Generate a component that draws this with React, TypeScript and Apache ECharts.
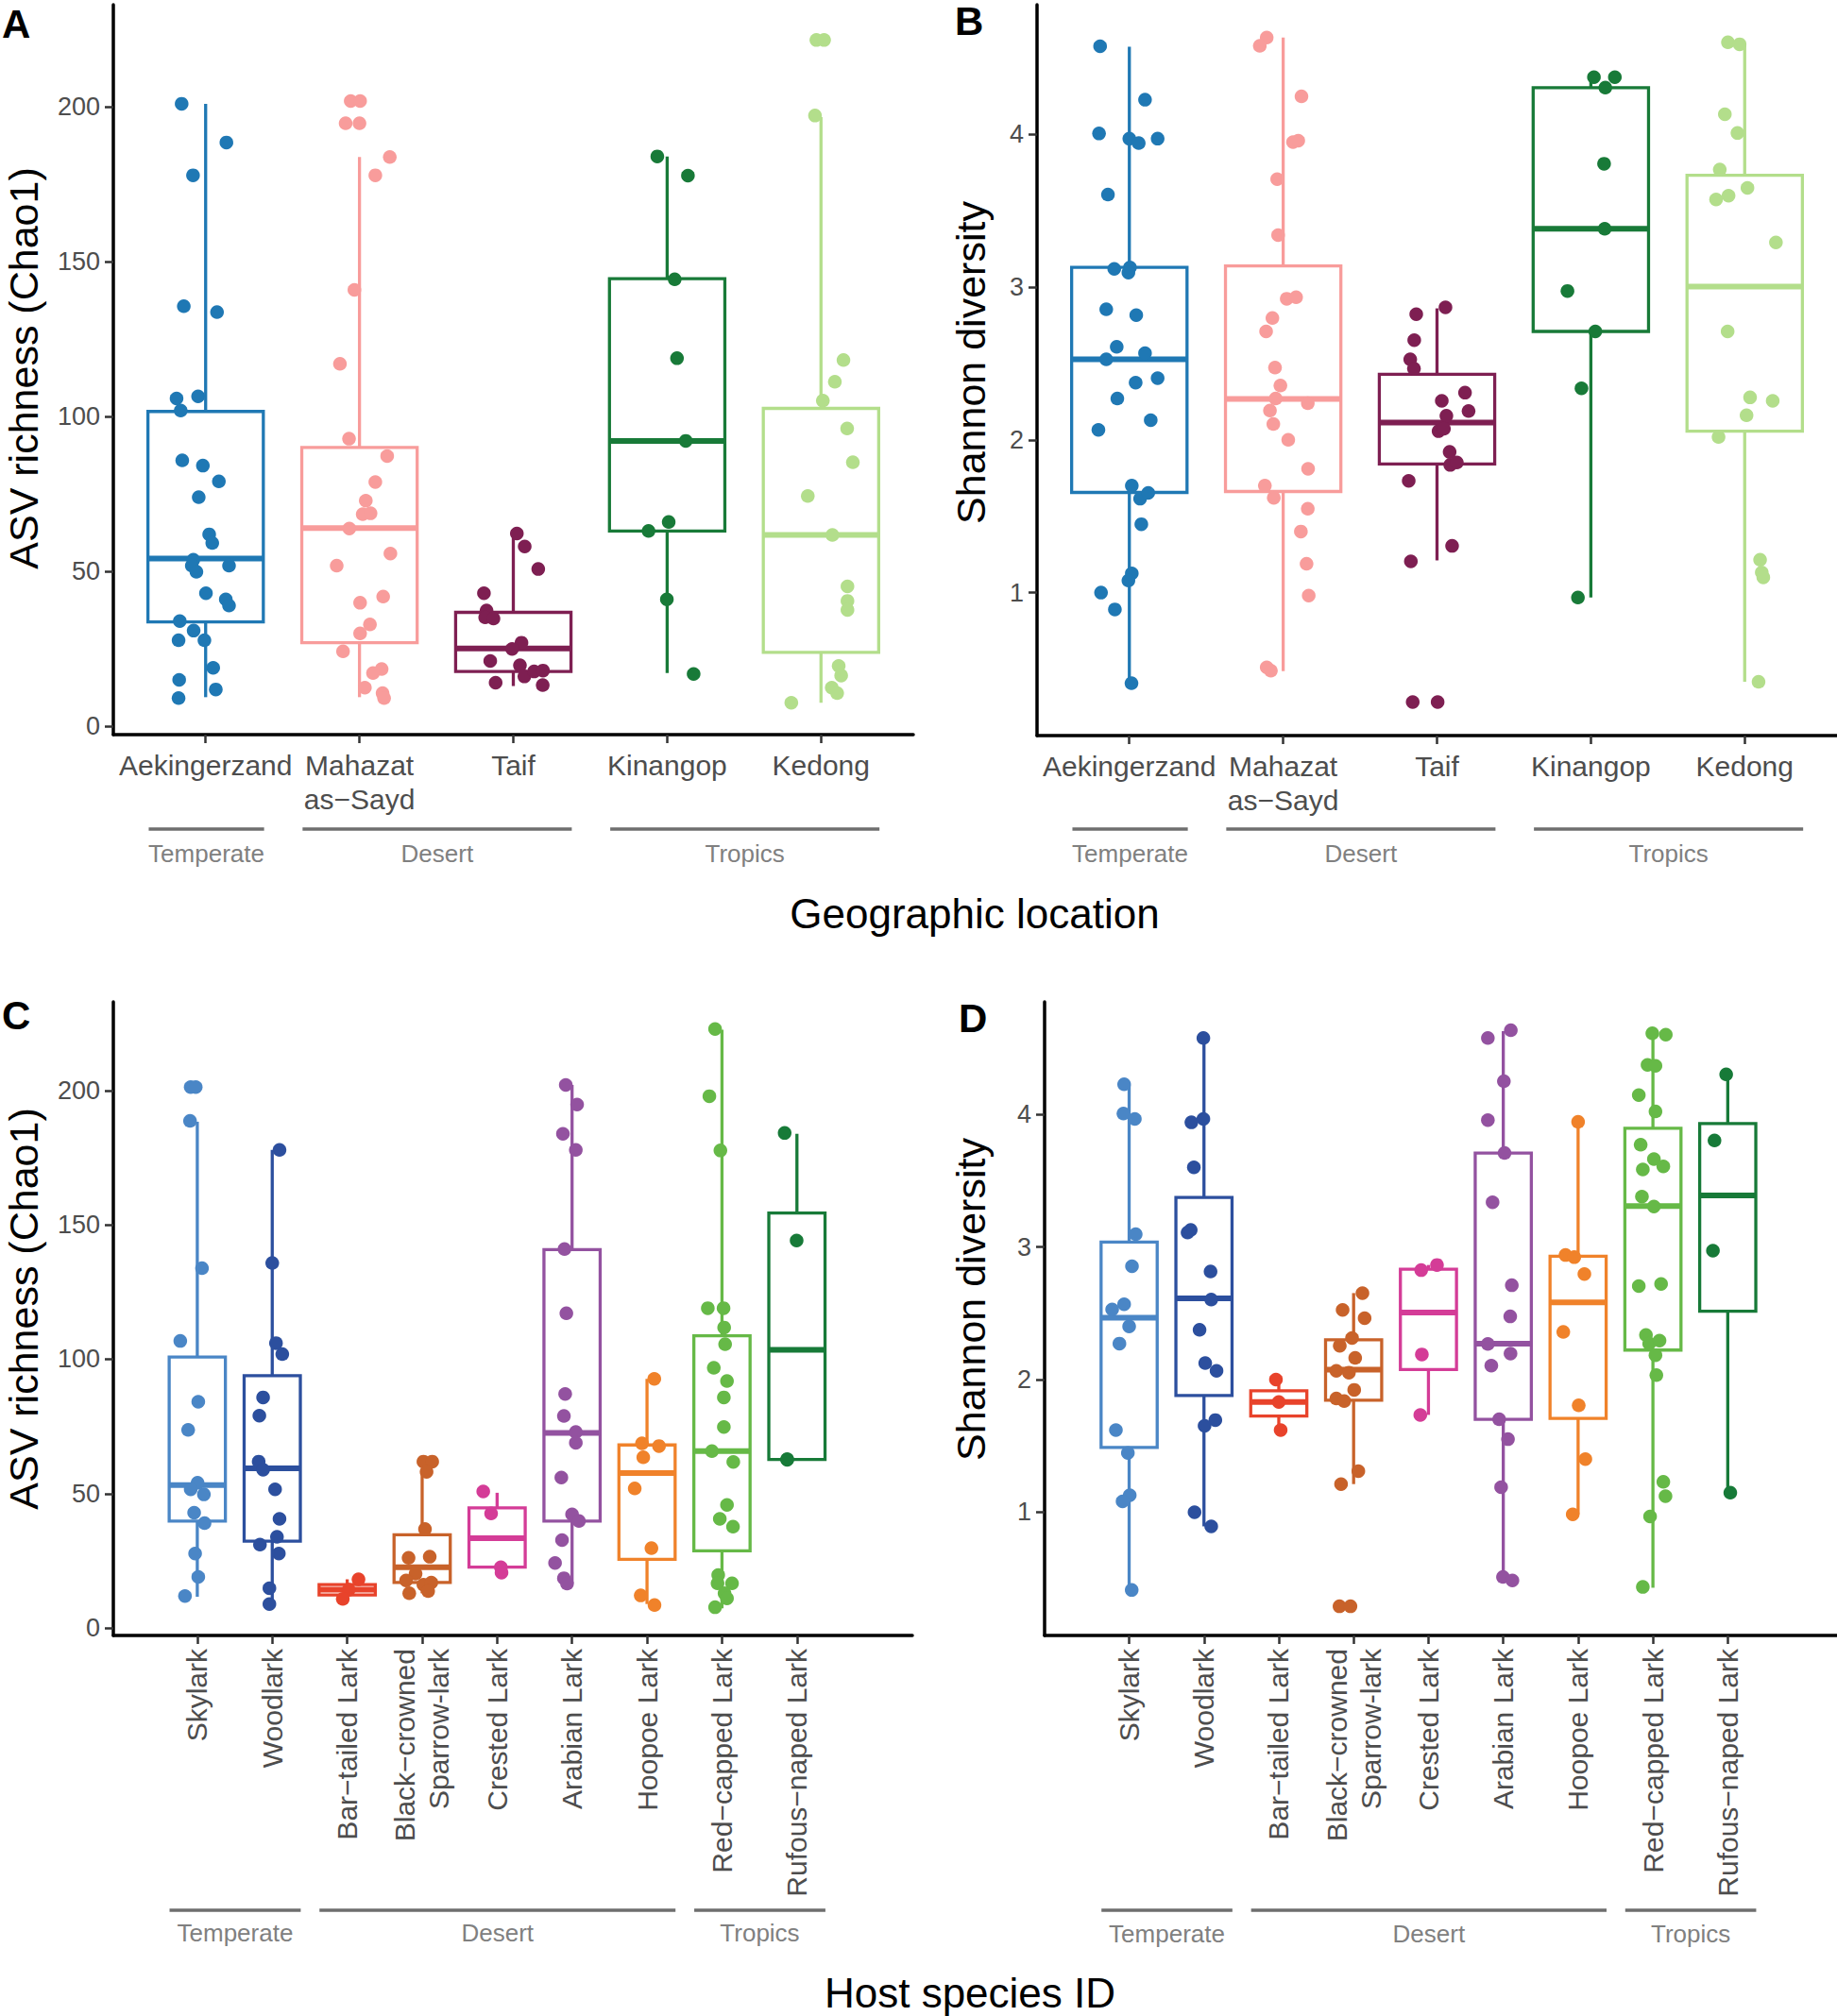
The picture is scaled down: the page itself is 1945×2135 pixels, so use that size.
import React, { useEffect, useRef } from "react";
import * as echarts from "echarts";

const FONT = "'Liberation Sans', Arial, Helvetica, sans-serif";

// ---------- categories ----------
const locations = ["Aekingerzand", "Mahazat\nas−Sayd", "Taif", "Kinangop", "Kedong"];
const locationColors = ["#1F78B4", "#F89C9B", "#7E1F52", "#187A38", "#B3DE8B"];
const species = [
  "Skylark",
  "Woodlark",
  "Bar−tailed Lark",
  "Black−crowned\nSparrow-lark",
  "Crested Lark",
  "Arabian Lark",
  "Hoopoe Lark",
  "Red−capped Lark",
  "Rufous−naped Lark",
];
const speciesColors = ["#4A86C6", "#2C4F9E", "#E8432B", "#C8622A", "#D43C97", "#9352A0", "#F0822A", "#66B947", "#177A38"];
const locationGroups: [string, number, number][] = [["Temperate", 1, 1], ["Desert", 2, 3], ["Tropics", 4, 5]];
const speciesGroups: [string, number, number][] = [["Temperate", 1, 2], ["Desert", 3, 7], ["Tropics", 8, 9]];
const chaoTicks = [0, 50, 100, 150, 200];
const shannonTicks = [1, 2, 3, 4];

// ---------- A: Chao1 by location ----------
// [lower whisker, q1, median, q3, upper whisker]
const chaoLocBoxes = [
  [9.3, 33.6, 54.1, 101.6, 201],
  [9.3, 26.9, 63.9, 90.0, 183.8],
  [12.9, 17.6, 25.0, 36.7, 62.2],
  [17.1, 63.0, 92.1, 144.5, 184.0],
  [7.5, 23.8, 61.7, 102.6, 196.7],
];
const chaoLocValues = [
  [201, 188.5, 177.9, 135.6, 133.7, 105.8, 106.5, 101.9, 85.8, 84.1, 79.0, 73.9, 61.9, 59.1, 53.7, 51.8, 49.8, 51.8, 42.9, 40.9, 38.9, 33.9, 30.8, 27.7, 27.7, 18.8, 14.9, 11.8, 9.0],
  [201.9, 201.9, 194.7, 194.7, 183.8, 177.9, 140.9, 117.0, 92.8, 87.2, 78.8, 72.8, 68.4, 68.7, 63.8, 55.7, 51.8, 39.8, 41.8, 32.8, 29.9, 24.1, 18.4, 17.1, 12.4, 10.6, 9.0],
  [62.2, 58.0, 50.7, 42.9, 37.3, 35.1, 34.7, 26.9, 24.9, 21.0, 19.6, 16.0, 17.6, 17.9, 14.0, 13.2],
  [184.0, 177.8, 144.3, 118.8, 92.1, 65.9, 63.0, 40.9, 16.8],
  [221.6, 221.6, 197.2, 118.2, 111.2, 105.1, 96.1, 85.2, 74.3, 61.7, 45.1, 40.4, 37.5, 19.4, 16.3, 12.4, 10.6, 7.5],
];
const chaoLocJitter = [
  [-0.156, 0.135, -0.082, -0.142, 0.074, -0.189, -0.049, -0.162, -0.152, -0.018, 0.086, -0.045, 0.023, 0.043, -0.08, -0.09, -0.06, 0.152, 0.002, 0.131, 0.152, -0.168, -0.078, -0.176, -0.008, 0.049, -0.172, 0.066, -0.176],
  [-0.057, 0.004, -0.09, 0, 0.197, 0.103, -0.033, -0.127, -0.068, 0.18, 0.103, 0.041, 0.021, 0.072, -0.066, 0.201, -0.148, 0.004, 0.154, 0.068, 0.004, -0.107, 0.144, 0.088, 0.035, 0.15, 0.16],
  [0.023, 0.074, 0.162, -0.191, -0.174, -0.183, -0.129, 0.053, -0.008, -0.15, 0.043, 0.072, 0.135, 0.193, -0.115, 0.191],
  [-0.064, 0.135, 0.049, 0.064, 0.121, 0.01, -0.121, -0.002, 0.172],
  [-0.03, 0.02, -0.039, 0.146, 0.09, 0.012, 0.17, 0.207, -0.086, 0.074, 0.172, 0.172, 0.172, 0.115, 0.131, 0.07, 0.105, -0.193],
];

// ---------- B: Shannon by location ----------
const shannonLocBoxes = [
  [0.407, 1.656, 2.527, 3.129, 4.574],
  [0.486, 1.662, 2.268, 3.139, 4.634],
  [1.211, 1.842, 2.114, 2.429, 2.861],
  [0.968, 2.71, 3.382, 4.306, 4.369],
  [0.416, 2.057, 3.003, 3.732, 4.596],
];
const shannonLocValues = [
  [4.577, 4.227, 4.006, 3.972, 3.943, 3.972, 3.606, 3.12, 3.129, 3.095, 2.855, 2.817, 2.609, 2.568, 2.527, 2.404, 2.375, 2.271, 2.129, 2.066, 1.7, 1.615, 1.653, 1.448, 1.126, 1.079, 1.0, 0.89, 0.407],
  [4.634, 4.58, 4.249, 3.95, 3.959, 3.707, 3.341, 2.924, 2.934, 2.798, 2.71, 2.473, 2.356, 2.271, 2.24, 2.192, 2.104, 2.0, 1.811, 1.7, 1.621, 1.549, 1.4, 1.189, 0.981, 0.511, 0.489],
  [2.868, 2.823, 2.653, 2.527, 2.467, 2.309, 2.256, 2.189, 2.158, 2.057, 2.073, 1.921, 1.836, 1.852, 1.732, 1.306, 1.205, 0.284, 0.284],
  [4.375, 4.375, 4.306, 3.808, 3.382, 2.975, 2.71, 2.338, 0.968],
  [4.603, 4.59, 4.132, 4.009, 3.77, 3.65, 3.599, 3.574, 3.293, 2.71, 2.278, 2.256, 2.161, 2.019, 1.215, 1.132, 1.1, 0.416],
];
const shannonLocJitter = [
  [-0.19, 0.102, -0.197, 0, 0.061, 0.184, -0.139, -0.098, 0.004, -0.006, -0.15, 0.045, -0.082, 0.102, -0.15, 0.184, 0.041, -0.078, 0.139, -0.201, 0.016, 0.07, 0.123, 0.078, 0.016, -0.006, -0.184, -0.094, 0.014],
  [-0.107, -0.152, 0.119, 0.064, 0.098, -0.039, -0.033, 0.023, 0.084, -0.07, -0.111, -0.053, -0.018, -0.049, 0.16, -0.086, -0.064, 0.033, 0.162, -0.119, -0.061, 0.16, 0.115, 0.152, 0.166, -0.107, -0.08],
  [0.055, -0.135, -0.148, -0.174, -0.15, 0.182, 0.031, 0.205, 0.061, 0.01, 0.045, 0.082, 0.086, 0.129, -0.184, 0.098, -0.17, -0.158, 0.004],
  [0.02, 0.156, 0.094, 0.086, 0.09, -0.152, 0.029, -0.061, -0.084],
  [-0.109, -0.033, -0.129, -0.047, -0.162, 0.018, -0.105, -0.186, 0.203, -0.111, 0.035, 0.182, 0.012, -0.17, 0.1, 0.111, 0.121, 0.09],
];

// ---------- C: Chao1 by host species ----------
const chaoSpBoxes = [
  [11.6, 39.8, 53.2, 100.8, 188.4],
  [8.1, 32.3, 59.4, 93.9, 177.9],
  [10.8, 12.3, 14.2, 16.1, 18.1],
  [12.9, 16.9, 22.6, 34.7, 58.1],
  [21.8, 22.6, 33.4, 44.7, 50.3],
  [16.5, 39.8, 72.6, 140.8, 202.1],
  [8.9, 25.5, 57.6, 68.1, 92.7],
  [7.3, 28.7, 65.8, 108.7, 222.6],
  [62.6, 62.7, 103.5, 154.4, 183.9],
];
const chaoSpValues = [
  [201.3, 201.3, 188.7, 133.9, 106.8, 84.2, 73.7, 54.0, 51.6, 49.7, 42.9, 39.0, 27.7, 19.0, 11.9],
  [177.9, 135.8, 106.0, 101.9, 85.8, 79.0, 61.9, 58.9, 51.6, 40.6, 33.9, 31.0, 27.7, 14.8, 8.9],
  [18.1, 14.2, 10.8],
  [61.9, 61.9, 58.1, 36.8, 26.1, 26.5, 20.2, 17.7, 16.1, 16.9, 12.9, 13.7],
  [50.8, 42.6, 22.6, 20.6],
  [202.1, 194.8, 183.9, 177.9, 141.0, 117.1, 87.1, 78.9, 72.9, 68.9, 56.0, 42.3, 39.8, 32.7, 24.2, 18.5, 16.5],
  [92.7, 68.7, 67.7, 63.5, 51.9, 29.7, 12.1, 8.5],
  [222.9, 197.9, 177.7, 119.0, 119.0, 111.8, 105.6, 96.8, 91.9, 85.8, 74.8, 65.8, 61.8, 45.8, 40.6, 37.7, 19.7, 16.6, 16.6, 12.9, 11.0, 7.7],
  [184.2, 144.2, 62.8, 62.6],
];
const chaoSpJitter = [
  [-0.088, -0.021, -0.097, 0.063, -0.227, 0.013, -0.122, 0.004, -0.088, 0.088, -0.042, 0.097, -0.029, 0.013, -0.164],
  [0.097, 0, 0.05, 0.134, -0.122, -0.172, -0.181, -0.122, 0.038, 0.097, 0.063, -0.164, 0.088, -0.038, -0.038],
  [0.151, 0.02, -0.059],
  [0.017, 0.134, 0.059, 0.038, -0.181, 0.101, -0.088, -0.214, 0.017, 0.122, -0.172, 0.08],
  [-0.185, -0.08, 0.05, 0.059],
  [-0.084, 0.067, -0.122, 0.05, -0.101, -0.076, -0.092, -0.109, 0.05, 0.05, -0.143, 0, 0.092, -0.134, -0.227, -0.109, -0.067],
  [0.097, -0.067, 0.16, -0.05, -0.164, 0.059, -0.084, 0.1],
  [-0.092, -0.168, -0.021, -0.189, 0.021, 0.029, 0.042, -0.109, 0.067, 0.025, 0.025, -0.134, 0.151, 0.067, -0.029, 0.147, -0.05, -0.059, 0.134, 0.034, 0.067, -0.092],
  [-0.164, -0.004, -0.13, -0.13],
];

// ---------- D: Shannon by host species ----------
const shannonSpBoxes = [
  [0.413, 1.489, 2.468, 3.038, 4.222],
  [0.893, 1.881, 2.614, 3.374, 4.577],
  [1.62, 1.726, 1.832, 1.916, 2.0],
  [1.212, 1.845, 2.076, 2.301, 2.653],
  [1.734, 2.076, 2.507, 2.833, 2.865],
  [0.495, 1.701, 2.272, 3.71, 4.629],
  [0.984, 1.708, 2.582, 2.931, 3.945],
  [0.43, 2.223, 3.309, 3.896, 4.613],
  [1.147, 2.516, 3.39, 3.932, 4.303],
];
const shannonSpValues = [
  [4.228, 4.007, 3.967, 3.097, 2.856, 2.569, 2.53, 2.402, 2.272, 1.62, 1.447, 1.128, 1.082, 0.413],
  [4.577, 3.941, 3.967, 3.602, 3.11, 3.129, 2.816, 2.604, 2.376, 2.125, 2.067, 1.695, 1.652, 1.0, 0.893],
  [2.001, 1.832, 1.62],
  [2.653, 2.526, 2.464, 2.314, 2.256, 2.164, 2.067, 2.053, 1.923, 1.858, 1.838, 1.31, 1.212, 0.29, 0.29],
  [2.865, 2.826, 2.19, 1.734],
  [4.636, 4.577, 4.251, 3.958, 3.71, 3.338, 2.712, 2.477, 2.269, 2.197, 2.106, 1.701, 1.551, 1.189, 0.511, 0.485],
  [3.945, 2.94, 2.924, 2.797, 2.36, 1.806, 1.401, 0.984],
  [4.613, 4.603, 4.375, 4.368, 4.147, 4.023, 3.772, 3.664, 3.609, 3.586, 3.381, 3.306, 2.706, 2.722, 2.337, 2.272, 2.295, 2.184, 2.034, 1.229, 1.121, 0.968, 0.436],
  [4.303, 3.804, 2.973, 1.147],
];
const shannonSpJitter = [
  [-0.067, -0.076, 0.076, 0.088, 0.038, -0.067, -0.227, 0, -0.13, -0.177, -0.017, 0.008, -0.088, 0.034],
  [-0.008, -0.168, -0.008, -0.135, -0.219, -0.177, 0.088, 0.097, -0.059, 0.017, 0.168, 0.152, 0.008, -0.126, 0.097],
  [-0.038, 0, 0.025],
  [0.118, -0.147, 0.147, -0.021, -0.185, 0.021, -0.231, -0.063, 0.008, -0.231, -0.126, 0.063, -0.168, -0.189, -0.042],
  [0.114, -0.097, -0.088, -0.109],
  [0.101, -0.206, 0.008, -0.206, 0.017, -0.143, 0.114, 0.093, -0.206, 0.097, -0.16, -0.055, 0.063, -0.029, -0.004, 0.122],
  [0, -0.168, -0.051, 0.084, -0.198, 0.008, 0.097, -0.072],
  [-0.008, 0.172, -0.072, 0.034, -0.189, 0.034, -0.164, 0.013, 0.139, -0.135, -0.147, 0.013, -0.189, 0.109, -0.093, -0.05, 0.088, 0.034, 0.046, 0.139, 0.168, -0.038, -0.135],
  [-0.021, -0.177, -0.198, 0.034],
];

type Panel = {
  grid: { left: number; top: number; width: number; height: number };
  cats: string[];
  colors: string[];
  boxes: number[][];
  values: number[][];
  jitter: number[][];
  groups: [string, number, number][];
  xMin: number;
  xMax: number;
  yMin: number;
  yMax: number;
  ticks: number[];
  rotate: number;
  lineOff: number;
  labelOff: number;
};

const panels: Panel[] = [
  {
    grid: { left: 120, top: 5, width: 847, height: 773 },
    cats: locations, colors: locationColors, boxes: chaoLocBoxes, values: chaoLocValues, jitter: chaoLocJitter,
    groups: locationGroups, xMin: 0.4, xMax: 5.6, yMin: -2.8, yMax: 233, ticks: chaoTicks, rotate: 0, lineOff: 100, labelOff: 126,
  },
  {
    grid: { left: 1098, top: 5, width: 847, height: 774 },
    cats: locations, colors: locationColors, boxes: shannonLocBoxes, values: shannonLocValues, jitter: shannonLocJitter,
    groups: locationGroups, xMin: 0.4, xMax: 5.6, yMin: 0.064, yMax: 4.849, ticks: shannonTicks, rotate: 0, lineOff: 99, labelOff: 125,
  },
  {
    grid: { left: 120, top: 1061, width: 846, height: 671 },
    cats: species, colors: speciesColors, boxes: chaoSpBoxes, values: chaoSpValues, jitter: chaoSpJitter,
    groups: speciesGroups, xMin: -0.12, xMax: 10.54, yMin: -2.8, yMax: 233, ticks: chaoTicks, rotate: 90, lineOff: 291, labelOff: 315,
  },
  {
    grid: { left: 1106, top: 1061, width: 839, height: 671 },
    cats: species, colors: speciesColors, boxes: shannonSpBoxes, values: shannonSpValues, jitter: shannonSpJitter,
    groups: speciesGroups, xMin: -0.13, xMax: 10.46, yMin: 0.07, yMax: 4.85, ticks: shannonTicks, rotate: 90, lineOff: 291, labelOff: 316,
  },
];

const BOX_HALF = 0.375;

function buildOption() {
  const grids: any[] = [];
  const xAxes: any[] = [];
  const yAxes: any[] = [];
  const series: any[] = [];

  panels.forEach((p, pi) => {
    grids.push({ left: p.grid.left, top: p.grid.top, width: p.grid.width, height: p.grid.height, containLabel: false });
    const catIdx = p.cats.map((_, i) => i + 1);
    xAxes.push({
      gridIndex: pi,
      type: "value",
      min: p.xMin,
      max: p.xMax,
      axisLine: { show: true, onZero: false, lineStyle: { color: "#000", width: 3.5 } },
      axisTick: { show: true, customValues: catIdx, length: 9, lineStyle: { color: "#333", width: 2.5 } },
      axisLabel: {
        show: true,
        customValues: catIdx,
        formatter: (v: number) => p.cats[Math.round(v) - 1] ?? "",
        fontSize: 30,
        lineHeight: 36,
        color: "#4d4d4d",
        fontFamily: FONT,
        margin: 14,
        rotate: p.rotate,
      },
      splitLine: { show: false },
    });
    yAxes.push({
      gridIndex: pi,
      type: "value",
      min: p.yMin,
      max: p.yMax,
      axisLine: { show: true, onZero: false, lineStyle: { color: "#000", width: 3.5 } },
      axisTick: { show: true, customValues: p.ticks, length: 9, lineStyle: { color: "#333", width: 2.5 } },
      axisLabel: { show: true, customValues: p.ticks, fontSize: 27, color: "#4d4d4d", fontFamily: FONT, margin: 14 },
      splitLine: { show: false },
    });

    // boxes
    series.push({
      type: "custom",
      xAxisIndex: pi,
      yAxisIndex: pi,
      z: 2,
      encode: { x: 0, y: 3 },
      data: p.boxes.map((b, i) => [i + 1, b[0], b[1], b[2], b[3], b[4], i]),
      renderItem: (params: any, api: any) => {
        const x = api.value(0);
        const lo = api.value(1), q1 = api.value(2), med = api.value(3), q3 = api.value(4), hi = api.value(5);
        const color = p.colors[api.value(6)];
        const pHi = api.coord([x, hi]);
        const pQ3 = api.coord([x, q3]);
        const pQ1 = api.coord([x, q1]);
        const pLo = api.coord([x, lo]);
        const tl = api.coord([x - BOX_HALF, q3]);
        const br = api.coord([x + BOX_HALF, q1]);
        const mL = api.coord([x - BOX_HALF, med]);
        const mR = api.coord([x + BOX_HALF, med]);
        return {
          type: "group",
          children: [
            { type: "line", shape: { x1: pHi[0], y1: pHi[1], x2: pQ3[0], y2: pQ3[1] }, style: { stroke: color, lineWidth: 3.3 } },
            { type: "line", shape: { x1: pQ1[0], y1: pQ1[1], x2: pLo[0], y2: pLo[1] }, style: { stroke: color, lineWidth: 3.3 } },
            {
              type: "rect",
              shape: { x: tl[0], y: tl[1], width: br[0] - tl[0], height: br[1] - tl[1] },
              style: { stroke: color, fill: "#ffffff", lineWidth: 3.3 },
            },
            { type: "line", shape: { x1: mL[0], y1: mL[1], x2: mR[0], y2: mR[1] }, style: { stroke: color, lineWidth: 6 } },
          ],
        };
      },
    });

    // jittered points
    p.values.forEach((vals, gi) => {
      series.push({
        type: "scatter",
        xAxisIndex: pi,
        yAxisIndex: pi,
        z: 3,
        symbol: "circle",
        symbolSize: 14.5,
        itemStyle: { color: p.colors[gi], opacity: 1 },
        data: vals.map((v, k) => [gi + 1 + p.jitter[gi][k], v]),
      });
    });

    // climate group brackets under the axis
    series.push({
      type: "custom",
      xAxisIndex: pi,
      yAxisIndex: pi,
      z: 2,
      clip: false,
      encode: { x: [0, 1] },
      data: p.groups.map((g) => [g[1] - 0.37, g[2] + 0.38]),
      renderItem: (params: any, api: any) => {
        const a = api.coord([api.value(0), p.yMin]);
        const b = api.coord([api.value(1), p.yMin]);
        const name = p.groups[params.dataIndex][0];
        return {
          type: "group",
          children: [
            {
              type: "line",
              shape: { x1: a[0], y1: a[1] + p.lineOff, x2: b[0], y2: a[1] + p.lineOff },
              style: { stroke: "#6e6e6e", lineWidth: 3.5 },
            },
            {
              type: "text",
              style: {
                text: name,
                x: (a[0] + b[0]) / 2,
                y: a[1] + p.labelOff,
                fill: "#808080",
                fontSize: 26,
                fontFamily: FONT,
                align: "center",
                verticalAlign: "middle",
              },
            },
          ],
        };
      },
    });
  });

  const txt = (text: string, x: number, y: number, size: number, opts: any = {}) => ({
    type: "text",
    x,
    y,
    rotation: opts.rotation || 0,
    style: {
      text,
      x: 0,
      y: 0,
      fill: opts.fill || "#000",
      fontSize: size,
      fontWeight: opts.bold ? "bold" : "normal",
      fontFamily: FONT,
      align: opts.align || "center",
      verticalAlign: "middle",
    },
  });

  const graphic = [
    txt("A", 2, 25, 42, { bold: true, align: "left" }),
    txt("B", 1011, 22, 42, { bold: true, align: "left" }),
    txt("C", 2, 1075, 42, { bold: true, align: "left" }),
    txt("D", 1015, 1078, 42, { bold: true, align: "left" }),
    txt("ASV richness (Chao1)", 25, 390, 43, { rotation: Math.PI / 2 }),
    txt("Shannon diversity", 1028, 384, 43, { rotation: Math.PI / 2 }),
    txt("ASV richness (Chao1)", 25, 1386, 43, { rotation: Math.PI / 2 }),
    txt("Shannon diversity", 1028, 1376, 43, { rotation: Math.PI / 2 }),
    txt("Geographic location", 1032, 967, 44),
    txt("Host species ID", 1027, 2110, 44),
  ];

  return {
    animation: false,
    backgroundColor: "#ffffff",
    textStyle: { fontFamily: FONT },
    grid: grids,
    xAxis: xAxes,
    yAxis: yAxes,
    series,
    graphic,
  };
}

export default function App() {
  const ref = useRef<HTMLDivElement>(null);
  useEffect(() => {
    document.body.style.margin = "0";
    if (!ref.current) return;
    const chart = echarts.init(ref.current, undefined, { renderer: "svg" });
    chart.setOption(buildOption() as any);
    return () => chart.dispose();
  }, []);
  return <div ref={ref} style={{ width: 1945, height: 2135 }} />;
}
